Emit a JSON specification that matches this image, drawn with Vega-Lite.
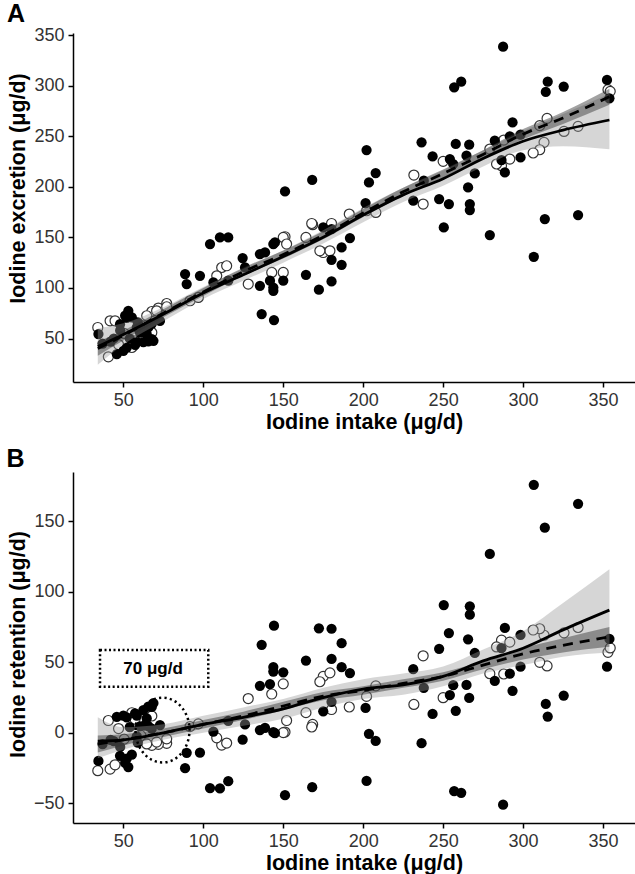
{
  "$schema": "https://vega.github.io/schema/vega-lite/v6.json",
  "padding": {"left": 6, "top": 2, "right": 0, "bottom": 0},
  "background": "white",
  "spacing": 14,
  "config": {
    "view": {"stroke": null},
    "font": "Liberation Sans",
    "axis": {"grid": false, "domainColor": "black", "domainWidth": 1.5, "tickColor": "black", "tickWidth": 1.5, "tickSize": 5, "labelFontSize": 18, "labelColor": "#333", "titleFontWeight": "bold", "titleColor": "black", "titleFontSize": 21.5, "labelPadding": 4},
    "axisX": {"titlePadding": 2},
    "axisY": {"titlePadding": 4},
    "title": {"fontSize": 25, "fontWeight": "bold", "anchor": "start", "frame": "bounds", "color": "black"}
  },
  "datasets": {
    "pts": [
      {"intake": 287.5, "excretion": 338.5, "retention": -51, "type": "filled"},
      {"intake": 256.9, "excretion": 298.3, "retention": -41.4, "type": "filled"},
      {"intake": 261.3, "excretion": 303.9, "retention": -42.6, "type": "filled"},
      {"intake": 315.4, "excretion": 303.9, "retention": 11.5, "type": "filled"},
      {"intake": 314.2, "excretion": 293.7, "retention": 20.5, "type": "filled"},
      {"intake": 325.4, "excretion": 299, "retention": 26.4, "type": "filled"},
      {"intake": 352.5, "excretion": 305.6, "retention": 46.9, "type": "filled"},
      {"intake": 353.1, "excretion": 296, "retention": 57.1, "type": "open"},
      {"intake": 354.5, "excretion": 294.3, "retention": 60.2, "type": "open"},
      {"intake": 354, "excretion": 287.4, "retention": 66.6, "type": "filled"},
      {"intake": 293.4, "excretion": 263.6, "retention": 29.8, "type": "filled"},
      {"intake": 315, "excretion": 267.6, "retention": 47.4, "type": "open"},
      {"intake": 310.4, "excretion": 260.4, "retention": 50, "type": "open"},
      {"intake": 334.4, "excretion": 259.7, "retention": 74.7, "type": "open"},
      {"intake": 325.6, "excretion": 254.7, "retention": 70.9, "type": "open"},
      {"intake": 202.1, "excretion": 236.3, "retention": -34.2, "type": "filled"},
      {"intake": 236.5, "excretion": 243.9, "retention": -7.4, "type": "filled"},
      {"intake": 257.9, "excretion": 242.3, "retention": 15.6, "type": "filled"},
      {"intake": 266.3, "excretion": 241.6, "retention": 24.7, "type": "filled"},
      {"intake": 243.4, "excretion": 230, "retention": 13.4, "type": "filled"},
      {"intake": 282.3, "excretion": 245.5, "retention": 36.8, "type": "filled"},
      {"intake": 287.9, "excretion": 246.2, "retention": 41.7, "type": "open"},
      {"intake": 291.7, "excretion": 249.8, "retention": 41.9, "type": "filled"},
      {"intake": 298.4, "excretion": 251.5, "retention": 46.9, "type": "filled"},
      {"intake": 313.1, "excretion": 243.9, "retention": 69.2, "type": "open"},
      {"intake": 310.4, "excretion": 236.6, "retention": 73.8, "type": "open"},
      {"intake": 306.3, "excretion": 233.4, "retention": 72.9, "type": "open"},
      {"intake": 279.2, "excretion": 237.3, "retention": 41.9, "type": "open"},
      {"intake": 298.4, "excretion": 229, "retention": 69.4, "type": "filled"},
      {"intake": 254.2, "excretion": 227.4, "retention": 26.8, "type": "filled"},
      {"intake": 264.6, "excretion": 230.7, "retention": 33.9, "type": "filled"},
      {"intake": 250, "excretion": 225.1, "retention": 24.9, "type": "open"},
      {"intake": 256.3, "excretion": 222.5, "retention": 33.8, "type": "filled"},
      {"intake": 269.8, "excretion": 213.2, "retention": 56.6, "type": "filled"},
      {"intake": 231.7, "excretion": 211.6, "retention": 20.1, "type": "open"},
      {"intake": 286.5, "excretion": 226.4, "retention": 60.1, "type": "filled"},
      {"intake": 286.5, "excretion": 220.8, "retention": 65.7, "type": "open"},
      {"intake": 288.6, "excretion": 214.2, "retention": 74.4, "type": "filled"},
      {"intake": 283.4, "excretion": 222.5, "retention": 60.9, "type": "open"},
      {"intake": 291.7, "excretion": 227.4, "retention": 64.3, "type": "open"},
      {"intake": 265.6, "excretion": 199.3, "retention": 66.3, "type": "filled"},
      {"intake": 237.9, "excretion": 206, "retention": 31.9, "type": "filled"},
      {"intake": 237.5, "excretion": 182.9, "retention": 54.6, "type": "open"},
      {"intake": 247.5, "excretion": 187.9, "retention": 59.6, "type": "filled"},
      {"intake": 253.6, "excretion": 182.9, "retention": 70.7, "type": "filled"},
      {"intake": 266.7, "excretion": 182.9, "retention": 83.8, "type": "filled"},
      {"intake": 266.7, "excretion": 177, "retention": 89.7, "type": "filled"},
      {"intake": 168.1, "excretion": 206.7, "retention": -38.6, "type": "filled"},
      {"intake": 207.8, "excretion": 213.6, "retention": -5.8, "type": "filled"},
      {"intake": 203.6, "excretion": 204.3, "retention": -0.7, "type": "filled"},
      {"intake": 201.5, "excretion": 183.9, "retention": 17.6, "type": "filled"},
      {"intake": 191.3, "excretion": 173, "retention": 18.3, "type": "open"},
      {"intake": 313.6, "excretion": 168.1, "retention": 145.5, "type": "filled"},
      {"intake": 334.4, "excretion": 172, "retention": 162.4, "type": "filled"},
      {"intake": 306.7, "excretion": 130.8, "retention": 175.9, "type": "filled"},
      {"intake": 279.2, "excretion": 152.3, "retention": 126.9, "type": "filled"},
      {"intake": 250.4, "excretion": 159.8, "retention": 90.6, "type": "filled"},
      {"intake": 231.3, "excretion": 186.2, "retention": 45.1, "type": "filled"},
      {"intake": 164.2, "excretion": 113, "retention": 51.2, "type": "filled"},
      {"intake": 172.3, "excretion": 98.2, "retention": 74.1, "type": "filled"},
      {"intake": 180.2, "excretion": 106.4, "retention": 73.8, "type": "filled"},
      {"intake": 186.5, "excretion": 122.9, "retention": 63.6, "type": "filled"},
      {"intake": 180.2, "excretion": 127.8, "retention": 52.4, "type": "filled"},
      {"intake": 186.5, "excretion": 140, "retention": 46.5, "type": "filled"},
      {"intake": 191.7, "excretion": 149.3, "retention": 42.4, "type": "filled"},
      {"intake": 175, "excretion": 159.8, "retention": 15.2, "type": "filled"},
      {"intake": 168.4, "excretion": 162.5, "retention": 5.9, "type": "open"},
      {"intake": 180.2, "excretion": 163.7, "retention": 16.5, "type": "open"},
      {"intake": 164.2, "excretion": 149.9, "retention": 14.3, "type": "open"},
      {"intake": 175, "excretion": 135, "retention": 40, "type": "open"},
      {"intake": 179.2, "excretion": 136.7, "retention": 42.5, "type": "open"},
      {"intake": 151.1, "excretion": 195.4, "retention": -44.3, "type": "filled"},
      {"intake": 202.1, "excretion": 176.3, "retention": 25.8, "type": "open"},
      {"intake": 207.9, "excretion": 174.6, "retention": 33.3, "type": "open"},
      {"intake": 167.8, "excretion": 163.7, "retention": 4.1, "type": "open"},
      {"intake": 180.2, "excretion": 158.2, "retention": 22, "type": "filled"},
      {"intake": 151.1, "excretion": 150.6, "retention": 0.5, "type": "open"},
      {"intake": 172.9, "excretion": 136.7, "retention": 36.2, "type": "open"},
      {"intake": 150, "excretion": 107.1, "retention": 42.9, "type": "filled"},
      {"intake": 143.8, "excretion": 100.4, "retention": 43.4, "type": "filled"},
      {"intake": 144.8, "excretion": 145, "retention": -0.2, "type": "filled"},
      {"intake": 104.2, "excretion": 143.4, "retention": -39.2, "type": "filled"},
      {"intake": 110.4, "excretion": 149.9, "retention": -39.5, "type": "filled"},
      {"intake": 115.6, "excretion": 149.9, "retention": -34.3, "type": "filled"},
      {"intake": 150, "excretion": 149.9, "retention": 0.1, "type": "open"},
      {"intake": 143.8, "excretion": 143.4, "retention": 0.4, "type": "filled"},
      {"intake": 152.1, "excretion": 143.4, "retention": 8.7, "type": "open"},
      {"intake": 88.6, "excretion": 113.7, "retention": -25.1, "type": "filled"},
      {"intake": 89.6, "excretion": 103.8, "retention": -14.2, "type": "filled"},
      {"intake": 97.9, "excretion": 112, "retention": -14.1, "type": "filled"},
      {"intake": 111.5, "excretion": 120.2, "retention": -8.7, "type": "open"},
      {"intake": 114.6, "excretion": 121.9, "retention": -7.3, "type": "open"},
      {"intake": 108.4, "excretion": 112, "retention": -3.6, "type": "open"},
      {"intake": 124.6, "excretion": 129.5, "retention": -4.9, "type": "filled"},
      {"intake": 135.4, "excretion": 133.5, "retention": 1.9, "type": "filled"},
      {"intake": 138.6, "excretion": 135.1, "retention": 3.5, "type": "filled"},
      {"intake": 126.1, "excretion": 120.2, "retention": 5.9, "type": "filled"},
      {"intake": 135.4, "excretion": 102.1, "retention": 33.3, "type": "filled"},
      {"intake": 143.8, "excretion": 97.2, "retention": 46.6, "type": "filled"},
      {"intake": 141.7, "excretion": 107.1, "retention": 34.6, "type": "filled"},
      {"intake": 136.5, "excretion": 74.1, "retention": 62.4, "type": "filled"},
      {"intake": 144.2, "excretion": 68.2, "retention": 76, "type": "filled"},
      {"intake": 142.8, "excretion": 115.3, "retention": 27.5, "type": "open"},
      {"intake": 150, "excretion": 115.3, "retention": 34.7, "type": "open"},
      {"intake": 128.1, "excretion": 103.8, "retention": 24.3, "type": "open"},
      {"intake": 115.6, "excretion": 107.1, "retention": 8.5, "type": "filled"},
      {"intake": 106.3, "excretion": 105.4, "retention": 0.9, "type": "filled"},
      {"intake": 91.7, "excretion": 87.3, "retention": 4.4, "type": "open"},
      {"intake": 96.9, "excretion": 90.6, "retention": 6.3, "type": "open"},
      {"intake": 77.1, "excretion": 84.6, "retention": -7.5, "type": "open"},
      {"intake": 71.9, "excretion": 80.1, "retention": -8.2, "type": "open"},
      {"intake": 67.8, "excretion": 76.7, "retention": -8.9, "type": "open"},
      {"intake": 72.9, "excretion": 67.5, "retention": 5.4, "type": "filled"},
      {"intake": 34, "excretion": 60.9, "retention": -26.9, "type": "open"},
      {"intake": 34.4, "excretion": 54.4, "retention": -20, "type": "filled"},
      {"intake": 41.7, "excretion": 67.5, "retention": -25.8, "type": "open"},
      {"intake": 44.8, "excretion": 67.5, "retention": -22.7, "type": "open"},
      {"intake": 40.6, "excretion": 31.9, "retention": 8.7, "type": "open"},
      {"intake": 45.9, "excretion": 34.6, "retention": 11.3, "type": "filled"},
      {"intake": 50, "excretion": 37.8, "retention": 12.2, "type": "filled"},
      {"intake": 53.1, "excretion": 77.4, "retention": -24.3, "type": "filled"},
      {"intake": 51.1, "excretion": 72.5, "retention": -21.4, "type": "filled"},
      {"intake": 55.3, "excretion": 70.8, "retention": -15.5, "type": "filled"},
      {"intake": 47.9, "excretion": 64.2, "retention": -16.3, "type": "filled"},
      {"intake": 56.3, "excretion": 42.8, "retention": 13.5, "type": "open"},
      {"intake": 52.1, "excretion": 41.1, "retention": 11, "type": "filled"},
      {"intake": 58.4, "excretion": 60.9, "retention": -2.5, "type": "filled"},
      {"intake": 60.4, "excretion": 55.9, "retention": 4.5, "type": "filled"},
      {"intake": 64.6, "excretion": 54.4, "retention": 10.2, "type": "filled"},
      {"intake": 67.8, "excretion": 49.4, "retention": 18.4, "type": "filled"},
      {"intake": 65.6, "excretion": 60.9, "retention": 4.7, "type": "filled"},
      {"intake": 68.8, "excretion": 47.7, "retention": 21.1, "type": "filled"},
      {"intake": 64.6, "excretion": 72.5, "retention": -7.9, "type": "open"},
      {"intake": 70.8, "excretion": 77.4, "retention": -6.6, "type": "open"},
      {"intake": 77.1, "excretion": 81.4, "retention": -4.3, "type": "open"},
      {"intake": 57.3, "excretion": 47.7, "retention": 9.6, "type": "open"},
      {"intake": 55.3, "excretion": 41.1, "retention": 14.2, "type": "open"},
      {"intake": 67.8, "excretion": 55.9, "retention": 11.9, "type": "open"},
      {"intake": 57.3, "excretion": 43.6, "retention": 13.7, "type": "filled"},
      {"intake": 62.5, "excretion": 46.4, "retention": 16.1, "type": "filled"},
      {"intake": 65.6, "excretion": 47.1, "retention": 18.5, "type": "filled"},
      {"intake": 58.4, "excretion": 46.3, "retention": 12.1, "type": "filled"},
      {"intake": 52.1, "excretion": 70.4, "retention": -18.3, "type": "filled"},
      {"intake": 67.8, "excretion": 64.8, "retention": 3, "type": "filled"},
      {"intake": 48, "excretion": 58, "retention": -10, "type": "filled"},
      {"intake": 50.5, "excretion": 55, "retention": -4.5, "type": "open"},
      {"intake": 44, "excretion": 50, "retention": -6, "type": "filled"},
      {"intake": 61, "excretion": 63, "retention": -2, "type": "open"},
      {"intake": 54, "excretion": 50, "retention": 4, "type": "filled"},
      {"intake": 47, "excretion": 44, "retention": 3, "type": "open"},
      {"intake": 63, "excretion": 58, "retention": 5, "type": "filled"},
      {"intake": 59, "excretion": 66, "retention": -7, "type": "filled"},
      {"intake": 42, "excretion": 47, "retention": -5, "type": "filled"},
      {"intake": 37, "excretion": 45, "retention": -8, "type": "filled"}
    ],
    "fitA": [
      {"x": 34, "s": 42, "sLo": 24, "sHi": 60, "d": 40, "dLo": 33, "dHi": 47},
      {"x": 50, "s": 54, "sLo": 44, "sHi": 65, "d": 53, "dLo": 48, "dHi": 58},
      {"x": 75, "s": 74, "sLo": 67, "sHi": 81, "d": 75, "dLo": 71, "dHi": 79},
      {"x": 100, "s": 95, "sLo": 89, "sHi": 101, "d": 96, "dLo": 92, "dHi": 100},
      {"x": 125, "s": 113, "sLo": 107, "sHi": 119, "d": 116, "dLo": 112, "dHi": 120},
      {"x": 150, "s": 131, "sLo": 125, "sHi": 137, "d": 133, "dLo": 129, "dHi": 137},
      {"x": 175, "s": 150, "sLo": 144, "sHi": 157, "d": 152, "dLo": 148, "dHi": 156},
      {"x": 200, "s": 172, "sLo": 165, "sHi": 179, "d": 174, "dLo": 170, "dHi": 178},
      {"x": 225, "s": 192, "sLo": 185, "sHi": 199, "d": 195, "dLo": 191, "dHi": 199},
      {"x": 250, "s": 208, "sLo": 201, "sHi": 216, "d": 213, "dLo": 209, "dHi": 217},
      {"x": 275, "s": 228, "sLo": 220, "sHi": 236, "d": 232, "dLo": 228, "dHi": 236},
      {"x": 300, "s": 245, "sLo": 236, "sHi": 255, "d": 252, "dLo": 247, "dHi": 257},
      {"x": 325, "s": 256, "sLo": 240, "sHi": 272, "d": 268, "dLo": 262, "dHi": 274},
      {"x": 354, "s": 266, "sLo": 237, "sHi": 292, "d": 289, "dLo": 281, "dHi": 297}
    ],
    "fitB": [
      {"x": 34, "s": -6, "sLo": -18, "sHi": 11, "d": -8, "dLo": -14, "dHi": -2},
      {"x": 50, "s": -5, "sLo": -12, "sHi": 4, "d": -5, "dLo": -9, "dHi": -1},
      {"x": 75, "s": 0, "sLo": -5, "sHi": 6, "d": 0, "dLo": -3, "dHi": 3},
      {"x": 100, "s": 6, "sLo": 0, "sHi": 12, "d": 6, "dLo": 3, "dHi": 9},
      {"x": 125, "s": 11, "sLo": 5, "sHi": 18, "d": 12, "dLo": 9, "dHi": 15},
      {"x": 150, "s": 17, "sLo": 10, "sHi": 24, "d": 19, "dLo": 16, "dHi": 22},
      {"x": 175, "s": 25, "sLo": 18, "sHi": 32, "d": 26, "dLo": 23, "dHi": 29},
      {"x": 200, "s": 31, "sLo": 24, "sHi": 38, "d": 30, "dLo": 27, "dHi": 33},
      {"x": 225, "s": 34, "sLo": 27, "sHi": 42, "d": 35, "dLo": 32, "dHi": 38},
      {"x": 250, "s": 40, "sLo": 33, "sHi": 47, "d": 40, "dLo": 37, "dHi": 43},
      {"x": 275, "s": 51, "sLo": 42, "sHi": 59, "d": 48, "dLo": 45, "dHi": 51},
      {"x": 300, "s": 60, "sLo": 48, "sHi": 72, "d": 56, "dLo": 52, "dHi": 60},
      {"x": 325, "s": 73, "sLo": 54, "sHi": 92, "d": 62, "dLo": 57, "dHi": 67},
      {"x": 354, "s": 87, "sLo": 57, "sHi": 116, "d": 68, "dLo": 61, "dHi": 75}
    ],
    "annot": [
      {"intake": 35.4, "intake2": 103.1, "r1": 32.7, "r2": 58.7, "tx": 68.6, "ty": 45.5, "label": "70 μg/d", "ex": 74.5, "ey": 1.9}
    ]
  },
  "vconcat": [
    {
      "title": {"text": "A", "dx": -1, "offset": -1},
      "width": 562,
      "height": 349,
      "layer": [
        {
          "data": {"name": "pts"},
          "transform": [{"filter": "datum.type == 'open'"}],
          "mark": {"type": "circle", "fill": "white", "stroke": "#333", "strokeWidth": 1.2, "size": 100, "opacity": 1},
          "encoding": {
            "x": {"field": "intake", "type": "quantitative", "scale": {"domain": [18.5, 370], "nice": false, "zero": false}, "axis": {"values": [50, 100, 150, 200, 250, 300, 350], "title": "Iodine intake (μg/d)", "titleX": 291}},
            "y": {"field": "excretion", "type": "quantitative", "scale": {"domain": [7, 352], "nice": false, "zero": false}, "axis": {"values": [50, 100, 150, 200, 250, 300, 350], "title": "Iodine excretion (μg/d)", "titleY": 155}}
          }
        },
        {
          "data": {"name": "pts"},
          "transform": [{"filter": "datum.type == 'filled'"}],
          "mark": {"type": "circle", "fill": "black", "size": 105, "opacity": 1},
          "encoding": {
            "x": {"field": "intake", "type": "quantitative"},
            "y": {"field": "excretion", "type": "quantitative"}
          }
        },
        {
          "data": {"name": "fitA"},
          "mark": {"type": "area", "color": "#999999", "opacity": 0.4, "interpolate": "monotone"},
          "encoding": {"x": {"field": "x", "type": "quantitative"}, "y": {"field": "sLo", "type": "quantitative"}, "y2": {"field": "sHi"}}
        },
        {
          "data": {"name": "fitA"},
          "mark": {"type": "area", "color": "#303030", "opacity": 0.45, "interpolate": "monotone"},
          "encoding": {"x": {"field": "x", "type": "quantitative"}, "y": {"field": "dLo", "type": "quantitative"}, "y2": {"field": "dHi"}}
        },
        {
          "data": {"name": "fitA"},
          "mark": {"type": "line", "color": "black", "strokeWidth": 2.8, "interpolate": "monotone"},
          "encoding": {"x": {"field": "x", "type": "quantitative"}, "y": {"field": "s", "type": "quantitative"}}
        },
        {
          "data": {"name": "fitA"},
          "mark": {"type": "line", "color": "black", "strokeWidth": 2.8, "strokeDash": [10, 7], "interpolate": "monotone"},
          "encoding": {"x": {"field": "x", "type": "quantitative"}, "y": {"field": "d", "type": "quantitative"}}
        }
      ]
    },
    {
      "title": {"text": "B", "dx": -1, "offset": 0},
      "width": 562,
      "height": 351,
      "layer": [
        {
          "mark": {"type": "rule", "color": "black", "strokeWidth": 3, "strokeDash": [3, 5.5]},
          "encoding": {"y": {"datum": 0, "type": "quantitative"}}
        },
        {
          "data": {"name": "pts"},
          "transform": [{"filter": "datum.type == 'open'"}],
          "mark": {"type": "circle", "fill": "white", "stroke": "#333", "strokeWidth": 1.2, "size": 100, "opacity": 1},
          "encoding": {
            "x": {"field": "intake", "type": "quantitative", "scale": {"domain": [18.5, 370], "nice": false, "zero": false}, "axis": {"values": [50, 100, 150, 200, 250, 300, 350], "title": "Iodine intake (μg/d)", "titleX": 291}},
            "y": {"field": "retention", "type": "quantitative", "scale": {"domain": [-64, 185], "nice": false, "zero": false}, "axis": {"values": [-50, 0, 50, 100, 150], "title": "Iodine retention (μg/d)", "titleY": 172}}
          }
        },
        {
          "data": {"name": "pts"},
          "transform": [{"filter": "datum.type == 'filled'"}],
          "mark": {"type": "circle", "fill": "black", "size": 105, "opacity": 1},
          "encoding": {
            "x": {"field": "intake", "type": "quantitative"},
            "y": {"field": "retention", "type": "quantitative"}
          }
        },
        {
          "data": {"name": "fitB"},
          "mark": {"type": "area", "color": "#999999", "opacity": 0.4, "interpolate": "monotone"},
          "encoding": {"x": {"field": "x", "type": "quantitative"}, "y": {"field": "sLo", "type": "quantitative"}, "y2": {"field": "sHi"}}
        },
        {
          "data": {"name": "fitB"},
          "mark": {"type": "area", "color": "#303030", "opacity": 0.45, "interpolate": "monotone"},
          "encoding": {"x": {"field": "x", "type": "quantitative"}, "y": {"field": "dLo", "type": "quantitative"}, "y2": {"field": "dHi"}}
        },
        {
          "data": {"name": "fitB"},
          "mark": {"type": "line", "color": "black", "strokeWidth": 2.8, "interpolate": "monotone"},
          "encoding": {"x": {"field": "x", "type": "quantitative"}, "y": {"field": "s", "type": "quantitative"}}
        },
        {
          "data": {"name": "fitB"},
          "mark": {"type": "line", "color": "black", "strokeWidth": 2.8, "strokeDash": [10, 7], "interpolate": "monotone"},
          "encoding": {"x": {"field": "x", "type": "quantitative"}, "y": {"field": "d", "type": "quantitative"}}
        },
        {
          "data": {"name": "annot"},
          "mark": {"type": "rect", "fill": null, "fillOpacity": 0, "stroke": "black", "strokeWidth": 2.5, "strokeDash": [2, 2.5]},
          "encoding": {"x": {"field": "intake", "type": "quantitative"}, "x2": {"field": "intake2"}, "y": {"field": "r1", "type": "quantitative"}, "y2": {"field": "r2"}}
        },
        {
          "data": {"name": "annot"},
          "mark": {"type": "text", "fontSize": 17, "fontWeight": "bold", "color": "black", "align": "center", "baseline": "middle"},
          "encoding": {"x": {"field": "tx", "type": "quantitative"}, "y": {"field": "ty", "type": "quantitative"}, "text": {"field": "label"}}
        },
        {
          "data": {"name": "annot"},
          "mark": {"type": "point", "shape": "M-1,0A1,1.2 0 1,1 1,0A1,1.2 0 1,1 -1,0Z", "filled": false, "size": 2916, "stroke": "black", "strokeWidth": 2.5, "strokeDash": [2.2, 3.2], "opacity": 1},
          "encoding": {"x": {"field": "ex", "type": "quantitative"}, "y": {"field": "ey", "type": "quantitative"}}
        }
      ]
    }
  ]
}
